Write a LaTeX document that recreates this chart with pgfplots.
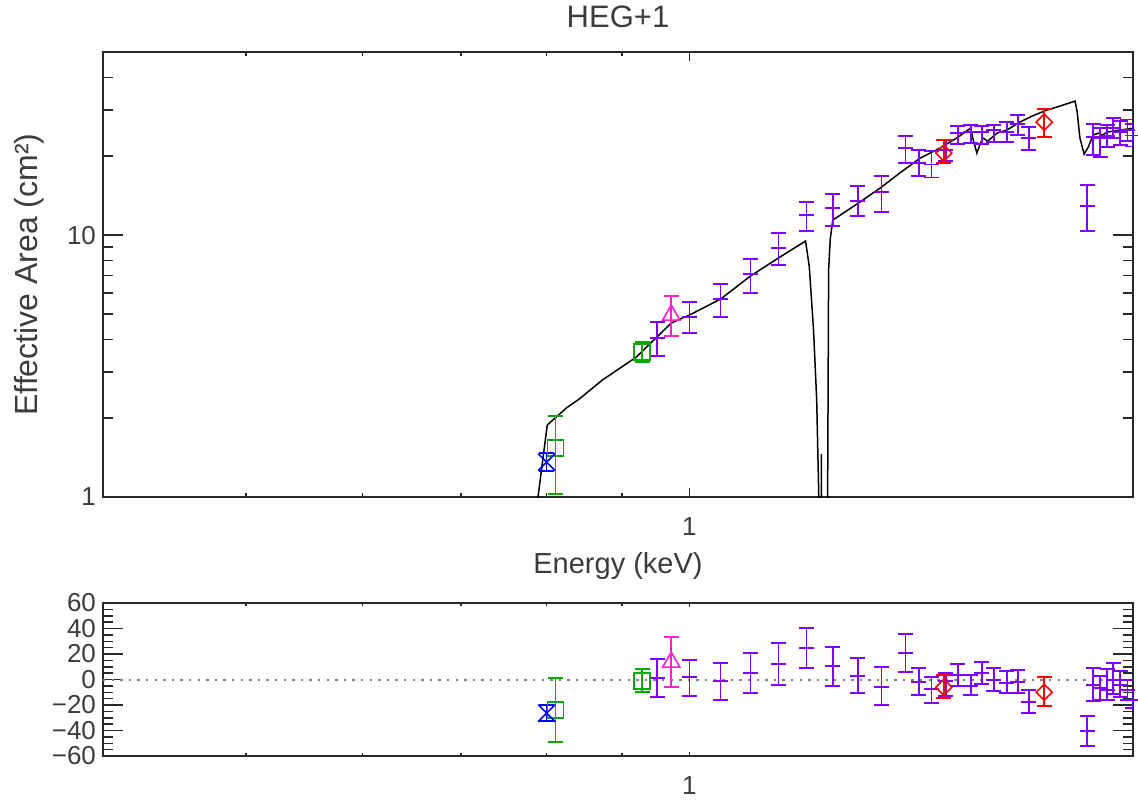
\documentclass[border=0pt]{standalone}
\usepackage{pgfplots}
\pgfplotsset{compat=1.18}
\usepackage{fontspec}
\setmainfont{Liberation Sans}
\definecolor{vio}{RGB}{127,0,255}
\definecolor{grn}{RGB}{0,170,0}
\definecolor{mag}{RGB}{255,30,210}
\definecolor{blu}{RGB}{0,0,255}
\definecolor{rd}{RGB}{255,0,0}
\definecolor{txt}{RGB}{60,60,60}
\definecolor{frame}{RGB}{40,40,40}

\pgfplotstableread{
x y ep em
0.951 4.045 0.611 0.593
1.000 4.86 0.69 0.63
1.050 5.70 0.80 0.84
1.100 7.10 1.00 1.09
1.149 8.92 1.26 1.24
1.201 11.92 1.44 1.56
1.251 12.68 1.66 1.86
1.301 13.49 1.89 1.67
1.350 14.59 2.21 2.35
1.402 21.48 2.39 2.65
1.431 18.83 2.27 2.03
1.460 18.6 2.3 2.0
1.493 21.1 1.95 1.94
1.521 24.5 1.57 2.25
1.552 24.73 1.57 2.28
1.579 24.73 1.34 2.48
1.609 25.17 1.13 2.53
1.642 24.73 2.27 2.09
1.671 26.53 2.19 2.45
1.700 23.45 2.39 2.35
1.862 12.9 2.61 2.54
1.879 23.66 2.87 3.46
1.900 23.45 2.15 3.6
1.921 23.9 2.4 2.2
1.939 25.6 2.37 2.15
1.960 24.73 2.5 2.68
1.983 25.17 2.43 2.27
1.998 24.0 2.5 2.2
}\topvio

\pgfplotstableread{
x y ep em
0.951 1.0 14.9 14.9
1.000 1.8 13.3 14.9
1.050 -1.3 14.1 14.9
1.100 4.9 15.7 15.6
1.149 12.0 16.5 16.5
1.201 24.5 15.7 15.6
1.251 10.4 14.9 15.7
1.301 2.6 14.1 13.3
1.350 -6.0 15.6 14.2
1.402 20.6 14.9 14.9
1.431 -2.1 11.0 10.2
1.460 -7.6 9.4 11.0
1.493 -1.3 6.2 11.8
1.521 3.4 8.6 8.7
1.552 -5.3 8.7 7.0
1.579 4.9 8.7 8.6
1.609 -0.5 9.4 8.7
1.642 -2.9 9.4 7.8
1.671 -2.1 9.4 8.6
1.700 -17.8 9.4 8.6
1.862 -40.5 11.7 11.8
1.879 -4.5 13.4 12.5
1.900 -6.8 9.4 9.4
1.921 -8.4 16.5 7.8
1.939 -0.5 13.3 11.0
1.960 -4.5 11.0 9.4
1.983 -8.4 7.9 7.8
1.998 -16.2 7.8 6.3
}\resvio

\pgfplotstableread{
x y
0.787 0.869
0.7895 1.0
0.8008 1.883
0.825 2.186
0.8418 2.366
0.8728 2.796
0.9204 3.422
0.972 4.615
1.000 4.95
1.050 5.70
1.100 6.975
1.149 8.17
1.199 9.49
1.206 7.55
1.214 4.34
1.220 2.345
1.224 1.0
1.2245 0.5
1.229 0.5
1.229 1.459
1.2295 0.5
1.240 0.5
1.241 1.0
1.243 7.35
1.246 9.6
1.251 11.41
1.305 13.36
1.350 15.25
1.389 17.25
1.434 19.67
1.479 21.48
1.518 23.45
1.552 25.6
1.557 23.45
1.567 20.56
1.574 22.05
1.582 23.45
1.594 22.85
1.617 24.5
1.642 25.17
1.676 27.0
1.708 28.46
1.748 30.0
1.784 31.08
1.818 32.19
1.827 32.47
1.833 29.48
1.841 23.45
1.853 20.38
1.865 21.67
1.879 24.08
1.894 24.5
1.906 24.08
1.921 24.73
1.960 25.17
2.000 25.6
}\model

\pgfplotsset{
  hebar/.style={only marks, color=#1, line width=0.8pt,
    mark options={solid, line width=0.8pt, #1},
    error bars/y dir=both, error bars/y explicit,
    error bars/error bar style={line width=0.8pt, #1},
    error bars/error mark=-,
    error bars/error mark options={rotate=90, mark size=3.75pt, line width=0.8pt, #1}},
}

\begin{document}
\begin{tikzpicture}
\useasboundingbox (0,0) rectangle (569pt,399.5pt);

\begin{axis}[
  scale only axis, width=515pt, anchor=south west,
  at={(51.5pt,151pt)}, height=222.5pt,
  xmode=log, xmin=0.4, xmax=2,
  ymode=log, ymin=1, ymax=50,
  xtick={1}, xticklabels={1}, minor xtick={0.5,0.6,0.7,0.8,0.9},
  ytick={1,10}, yticklabels={1,10},
  minor ytick={2,3,4,5,6,7,8,9,20,30,40},
  tick align=inside,
  axis line style={frame, line width=0.75pt},
  every tick/.style={frame, line width=0.75pt},
  major tick length=10pt, minor tick length=5pt,
  xtick style={/pgfplots/major tick length=4.5pt, /pgfplots/minor tick length=2pt},
  tick label style={font=\fontsize{13}{15}\selectfont, text=txt},
  xticklabel style={yshift=-7pt},
  title={HEG+1},
  title style={at={(axis description cs:0.5,1)}, anchor=base, yshift=6pt, font=\fontsize{15.5}{18}\selectfont, text=txt},
  xlabel={Energy (keV)},
  every axis x label/.style={at={(axis description cs:0.5,0)}, anchor=base, yshift=-38pt, font=\fontsize{14.5}{17}\selectfont, text=txt},
  ylabel={Effective Area (cm²)},
  every axis y label/.style={at={(axis description cs:-0.064,0.5)}, rotate=90, anchor=base, font=\fontsize{16}{19}\selectfont, text=txt},
]
\addplot[black, line width=0.75pt] table[x=x, y=y] {\model};
\addplot[hebar=vio, mark=-, mark size=3.75pt] table[x=x, y=y, y error plus=ep, y error minus=em] {\topvio};
\addplot[hebar=mag, mark=triangle, mark size=5pt] table[x=x, y=y, y error plus=ep, y error minus=em] {
x y ep em
0.972 4.95 0.90 0.83
};
\addplot[hebar=grn, mark=square, mark size=4pt] table[x=x, y=y, y error plus=ep, y error minus=em] {
x y ep em
0.811 1.538 0.502 0.511
0.929 3.575 0.33 0.30
};
\addplot[hebar=blu, mark=x, mark size=6pt] table[x=x, y=y, y error plus=ep, y error minus=em] {
x y ep em
0.800 1.36 0.112 0.103
};
\addplot[hebar=rd, mark=square, mark size=2.85pt, mark options={rotate=45}] table[x=x, y=y, y error plus=ep, y error minus=em] {
x y ep em
1.488 20.56 2.49 1.73
1.741 27.0 3.27 3.34
};
\end{axis}

\begin{axis}[
  scale only axis, width=515pt, anchor=south west,
  at={(51.5pt,21.5pt)}, height=76.5pt,
  xmode=log, xmin=0.4, xmax=2,
  ymin=-60, ymax=60,
  xtick={1}, xticklabels={1}, minor xtick={0.5,0.6,0.7,0.8,0.9},
  ytick={-60,-40,-20,0,20,40,60},
  yticklabels={−60,−40,−20,0,20,40,60},
  minor y tick num=3,
  tick align=inside,
  axis line style={frame, line width=0.75pt},
  every tick/.style={frame, line width=0.75pt},
  major tick length=10pt, minor tick length=5pt,
  xtick style={/pgfplots/major tick length=2pt, /pgfplots/minor tick length=1.5pt},
  tick label style={font=\fontsize{13}{15}\selectfont, text=txt},
  xticklabel style={yshift=-7pt},
]
\addplot[gray, line width=1pt, dash pattern=on 1.2pt off 3.1pt] coordinates {(0.4,0) (2,0)};
\addplot[hebar=vio, mark=-, mark size=3.75pt] table[x=x, y=y, y error plus=ep, y error minus=em] {\resvio};
\addplot[hebar=mag, mark=triangle, mark size=5pt] table[x=x, y=y, y error plus=ep, y error minus=em] {
x y ep em
0.972 13.6 19.6 19.6
};
\addplot[hebar=grn, mark=square, mark size=4pt] table[x=x, y=y, y error plus=ep, y error minus=em] {
x y ep em
0.811 -24.1 25.1 25.1
0.929 -1.3 9.4 8.6
};
\addplot[hebar=blu, mark=x, mark size=6pt] table[x=x, y=y, y error plus=ep, y error minus=em] {
x y ep em
0.800 -26.4 6.3 6.3
};
\addplot[hebar=rd, mark=square, mark size=2.85pt, mark options={rotate=45}] table[x=x, y=y, y error plus=ep, y error minus=em] {
x y ep em
1.488 -6.0 9.4 8.7
1.741 -10.0 11.8 10.9
};
\end{axis}
\end{tikzpicture}
\end{document}
